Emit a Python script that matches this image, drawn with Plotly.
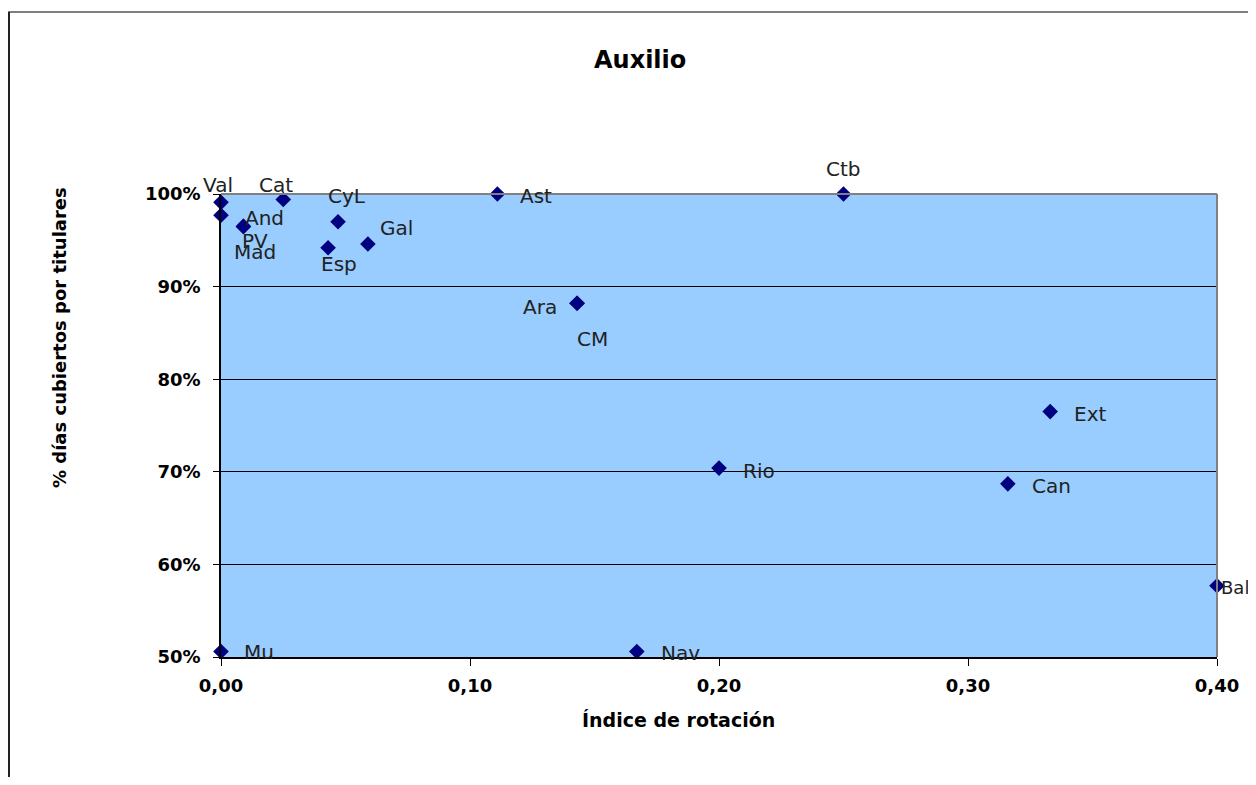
import plotly.graph_objects as go

labels = ["Val", "And", "PV", "Mad", "Cat", "CyL", "Esp", "Gal", "Ast", "Ara", "CM",
          "Ctb", "Ext", "Rio", "Can", "Bal", "Mu", "Nav"]
rotacion = [0.0, 0.0, 0.009, 0.009, 0.025, 0.047, 0.043, 0.059, 0.111, 0.143, 0.143,
            0.25, 0.333, 0.20, 0.316, 0.40, 0.0, 0.167]
cubiertos = [0.991, 0.977, 0.965, 0.965, 0.994, 0.970, 0.942, 0.946, 1.0, 0.882, 0.882,
             1.0, 0.765, 0.704, 0.687, 0.577, 0.506, 0.506]

# label offsets in pixels (dx right, dy down) relative to marker
offsets = {
    "Val": (-3, -17), "And": (43, 3), "PV": (12, 15), "Mad": (12, 26),
    "Cat": (-7, -15), "CyL": (9, -26), "Esp": (11, 16), "Gal": (29, -16),
    "Ast": (39, 2), "Ara": (-37, 4), "CM": (15, 36), "Ctb": (0, -25),
    "Ext": (40, 2), "Rio": (40, 3), "Can": (44, 2), "Bal": (2, 2),
    "Mu": (38, 1), "Nav": (44, 2),
}

FONT = "DejaVu Sans"
PAGE_OFF = 8  # browser body margin

# plot area in page pixels
PL, PR, PT, PB = 221, 1217, 194, 657
PW, PH = PR - PL, PB - PT


def px(xp):
    return (xp - PL) / PW


def py(yp):
    return (PB - yp) / PH


fig = go.Figure()
fig.add_trace(go.Scatter(
    x=rotacion, y=cubiertos, mode="markers",
    marker=dict(symbol="diamond", size=12, color="#000080"),
    cliponaxis=False, hoverinfo="text", text=labels,
))

annotations = []
for lab, xv, yv in zip(labels, rotacion, cubiertos):
    dx, dy = offsets[lab]
    annotations.append(dict(
        x=xv, y=yv, xref="x", yref="y", text=lab, showarrow=False,
        xshift=dx, yshift=-dy,
        font=dict(family=FONT, size=18 if lab == "Bal" else 20, color="#222222"),
        xanchor="left" if lab == "Bal" else "center", yanchor="middle",
    ))

# Title and axis titles
annotations.append(dict(text="<b>Auxilio</b>", xref="paper", yref="paper",
                        x=px(640), y=py(60), showarrow=False,
                        xanchor="center", yanchor="middle",
                        font=dict(family=FONT, size=24, color="#000000")))
annotations.append(dict(text="<b>Índice de rotación</b>", xref="paper", yref="paper",
                        x=px(678), y=py(720), showarrow=False,
                        xanchor="center", yanchor="middle",
                        font=dict(family=FONT, size=19, color="#000000")))
annotations.append(dict(text="<b>% días cubiertos por titulares</b>", xref="paper", yref="paper",
                        x=px(59), y=py(338), showarrow=False, textangle=-90,
                        xanchor="center", yanchor="middle",
                        font=dict(family=FONT, size=18, color="#000000")))

shapes = [
    # outer chart border (top and left)
    dict(type="line", xref="paper", yref="paper",
         x0=px(8), x1=px(1270), y0=py(12), y1=py(12),
         line=dict(color="#555555", width=1.5)),
    dict(type="line", xref="paper", yref="paper",
         x0=px(9), x1=px(9), y0=py(12), y1=py(800),
         line=dict(color="#222222", width=2)),
    # plot area grey border (top, right)
    dict(type="line", xref="paper", yref="paper", x0=0, x1=1, y0=1, y1=1,
         line=dict(color="#808080", width=2)),
    dict(type="line", xref="paper", yref="paper", x0=1, x1=1, y0=0, y1=1,
         line=dict(color="#808080", width=2)),
]

FIG_W = 1256 - PAGE_OFF
FIG_H = 785 - 2 * PAGE_OFF

fig.update_layout(
    width=FIG_W, height=FIG_H,
    margin=dict(l=PL - PAGE_OFF, r=FIG_W - (PR - PAGE_OFF), t=PT - PAGE_OFF,
                b=FIG_H - (PB - PAGE_OFF)),
    paper_bgcolor="white", plot_bgcolor="#99CCFF",
    separators=",.",
    showlegend=False,
    annotations=annotations, shapes=shapes,
    font=dict(family=FONT, color="#000000"),
    xaxis=dict(range=[0, 0.4], dtick=0.1, tick0=0, tickformat=".2f",
               showgrid=False, zeroline=False, showline=True, linecolor="#000000",
               linewidth=1.5, ticks="outside", ticklen=7, tickcolor="#000000",
               ticklabelstandoff=5,
               tickfont=dict(family=FONT, size=18, color="#000000", weight="bold")),
    yaxis=dict(range=[0.5, 1.0], dtick=0.1, tick0=0.5, tickformat=".0%",
               showgrid=True, gridcolor="#000000", gridwidth=1, zeroline=False,
               showline=True, linecolor="#000000", linewidth=1.5,
               ticks="outside", ticklen=6, tickcolor="#000000",
               ticklabelstandoff=9,
               tickfont=dict(family=FONT, size=18, color="#000000", weight="bold")),
)

fig.write_html("out.html")
